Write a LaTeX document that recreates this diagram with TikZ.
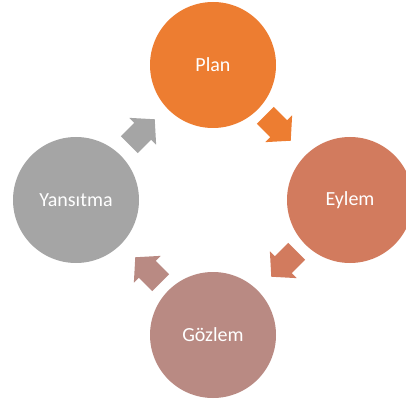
\documentclass[tikz,border=0pt]{standalone}
\usepackage{fontspec}
\setmainfont{Carlito}
\definecolor{cplan}{HTML}{ED7D31}
\definecolor{ceylem}{HTML}{D27B5E}
\definecolor{cgozlem}{HTML}{B98A83}
\definecolor{cyans}{HTML}{A5A5A5}
\tikzset{
  stage/.style={circle, minimum size=126pt, inner sep=0pt, text=white, font=\fontsize{20}{24}\selectfont},
  cyclearrow/.pic={
    \fill[pic actions] (-18,-12) -- (1,-12) -- (1,-19) -- (18,0) -- (1,19) -- (1,12) -- (-18,12) -- cycle;
  }
}
\begin{document}
\begin{tikzpicture}[x=1pt,y=-1pt]
\useasboundingbox (0,0) rectangle (406,403);
\begin{scope}
\clip (0,0) rectangle (406,403);
\node[stage, fill=cplan] (plan) at (213,65) {Plan};
\node[stage, fill=ceylem] (eylem) at (350,200) {Eylem};
\node[stage, fill=cgozlem] (gozlem) at (213,335) {Gözlem};
\node[stage, fill=cyans] (yansitma) at (76,200) {Yansıtma};
\end{scope}
\coordinate (a1) at (278,128);
\coordinate (a2) at (284,264);
\coordinate (a3) at (148,270);
\coordinate (a4) at (142,132);
\pic[fill=cplan, rotate=-45] at (a1) {cyclearrow};
\pic[fill=ceylem, rotate=-135] at (a2) {cyclearrow};
\pic[fill=cgozlem, rotate=135] at (a3) {cyclearrow};
\pic[fill=cyans, rotate=45] at (a4) {cyclearrow};
\end{tikzpicture}
\end{document}
